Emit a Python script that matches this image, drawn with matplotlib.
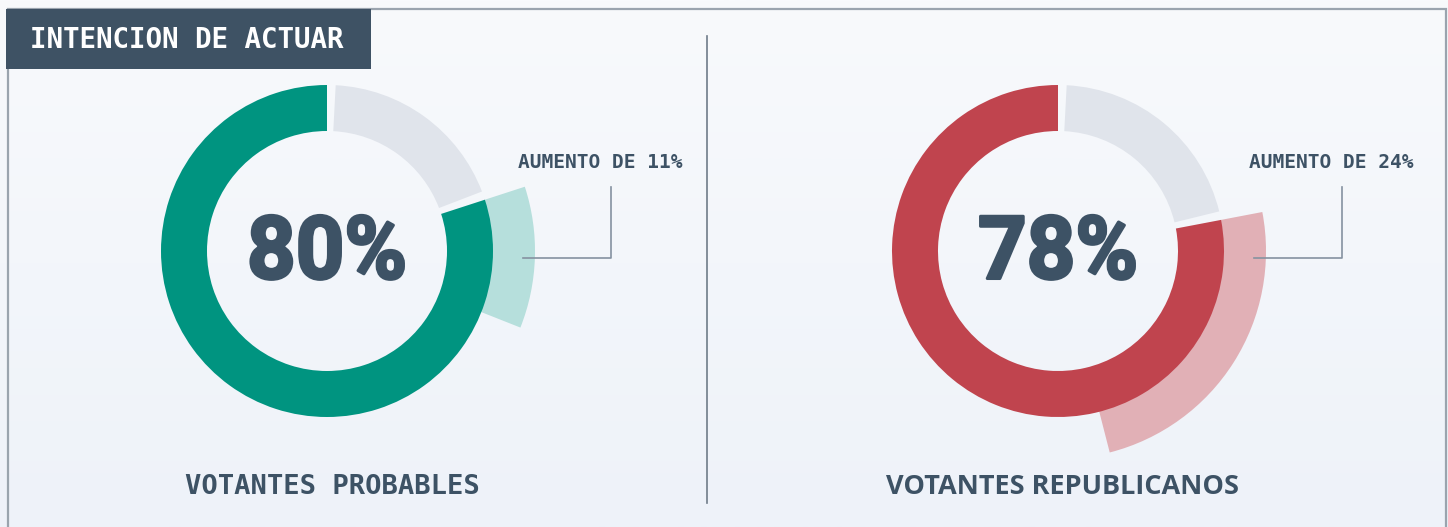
import numpy as np
import matplotlib
matplotlib.use("Agg")
import matplotlib.pyplot as plt
from matplotlib.patches import Wedge, Rectangle
from matplotlib.colors import LinearSegmentedColormap
from matplotlib.patheffects import AbstractPathEffect
from matplotlib.transforms import Affine2D

# ---------------- data ----------------
title = "INTENCION DE ACTUAR"
groups = ["VOTANTES PROBABLES", "VOTANTES REPUBLICANOS"]
values = [80, 78]            # % intención de actuar
increases = [11, 24]         # aumento en puntos %
main_colors = ["#009480", "#c0444e"]
light_colors = ["#b6dfdc", "#e1b0b6"]
rest_color = "#e0e4eb"
text_color = "#3d5265"

W, H = 1448, 527
fig = plt.figure(figsize=(W / 100, H / 100), dpi=100)
ax = fig.add_axes([0, 0, 1, 1])
ax.set_xlim(0, W)
ax.set_ylim(0, H)
ax.set_aspect("equal")
ax.axis("off")

def Y(y):  # pixel row (from top) -> axes y
    return H - y


class HScaleBold(AbstractPathEffect):
    """Horizontally condense glyphs about a given x and embolden them."""
    def __init__(self, sx, xc, stroke_pt, color):
        super().__init__()
        self.sx = sx
        self.xc = xc
        self.stroke_pt = stroke_pt
        self.color = color

    def draw_path(self, renderer, gc, tpath, affine, rgbFace=None):
        cxd = ax.transData.transform((self.xc, 0))[0]
        t = affine + Affine2D().translate(-cxd, 0).scale(self.sx, 1).translate(cxd, 0)
        gc0 = renderer.new_gc()
        gc0.copy_properties(gc)
        gc0.set_linewidth(self.stroke_pt)
        gc0.set_foreground(self.color)
        gc0.set_joinstyle("round")
        renderer.draw_path(gc0, tpath, t, rgbFace)
        gc0.restore()


# background gradient
grad = np.linspace(0, 1, 256).reshape(-1, 1)
cmap = LinearSegmentedColormap.from_list("bg", ["#f8fafc", "#eef2f9"])
ax.imshow(grad, extent=[0, W, 0, H], origin="upper", cmap=cmap,
          aspect="auto", zorder=0)

# border
ax.plot([7.5, 7.5, 1446, 1446], [0, Y(9), Y(9), 0], color="#9aa4ae",
        lw=1.6, zorder=1, solid_joinstyle="miter")

# title box
ax.add_patch(Rectangle((6, Y(69)), 365, 60, facecolor="#3e5264",
                       edgecolor="none", zorder=2))
ax.text(30, Y(40), title, family="DejaVu Sans Mono", weight="bold",
        fontsize=19.8, color="white", ha="left", va="center", zorder=3)

# divider
ax.plot([707, 707], [Y(36), Y(503)], color="#6f7c89", lw=1.2, zorder=1)

centers = [(327, 251), (1058, 251)]
r_out, r_in = 166, 120
r_light = 208
gap = 3.0
label_fonts = ["DejaVu Sans Mono", "Open Sans"]

for i in range(2):
    cx, cy = centers[i]
    cyy = Y(cy)
    v = values[i]
    inc = increases[i]
    a_end = (100 - v) / 100 * 360          # clockwise-from-top angle where main starts
    a_inc = a_end + inc / 100 * 360
    # main ring: from a_end to 360 clockwise
    ax.add_patch(Wedge((cx, cyy), r_out, 90 - 360, 90 - a_end,
                       width=r_out - r_in, facecolor=main_colors[i],
                       edgecolor="none", zorder=3))
    # remaining gray
    ax.add_patch(Wedge((cx, cyy), r_out, 90 - a_end + gap, 90 - gap,
                       width=r_out - r_in, facecolor=rest_color,
                       edgecolor="none", zorder=3))
    # increase arc (outer)
    ax.add_patch(Wedge((cx, cyy), r_light, 90 - a_inc, 90 - a_end,
                       width=r_light - r_out + 1, facecolor=light_colors[i],
                       edgecolor="none", zorder=2))
    # center value
    ax.text(cx, Y(278.5), f"{v}%", family="Roboto", weight="bold",
            fontsize=63, color=text_color, ha="center", va="baseline", zorder=4,
            path_effects=[HScaleBold(0.97, cx, 2.2, text_color)])
    # leader + annotation
    lx0 = cx + 196
    lx1 = cx + 284
    ax.plot([lx0, lx1, lx1], [Y(258), Y(258), Y(187)], color="#8592a0",
            lw=1.2, zorder=4)
    ax.text(cx + 273, Y(163), f"AUMENTO DE {inc}%", family="DejaVu Sans Mono",
            weight="bold", fontsize=14, color=text_color, ha="center",
            va="center", zorder=4)
    # group label
    ax.text(cx + 5, Y(487.5), groups[i], family=label_fonts[i], weight="bold",
            fontsize=19.5, color=text_color, ha="center", va="center", zorder=4)

fig.savefig("out.png", dpi=100)
